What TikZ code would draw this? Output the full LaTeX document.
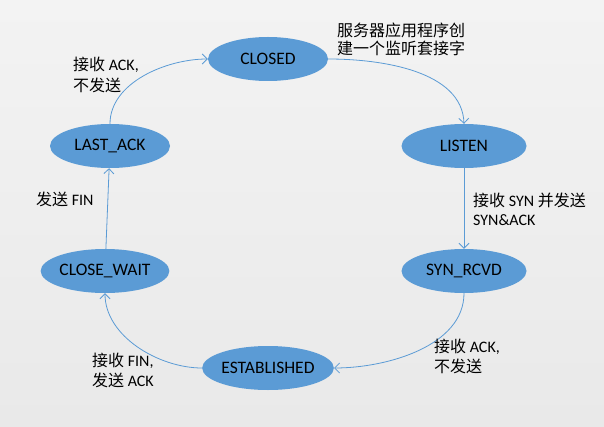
\documentclass[tikz,border=0pt]{standalone}
\usepackage{fontspec}
\setmainfont{Carlito}
\newfontfamily\cjk{Noto Sans CJK SC}
\usetikzlibrary{arrows.meta,shapes.geometric}
\definecolor{stateblue}{RGB}{91,155,213}
\definecolor{bgtop}{RGB}{243,243,243}
\definecolor{bgbot}{RGB}{233,233,233}

\begin{document}
\begin{tikzpicture}[x=1pt,y=1pt,
    state/.style={ellipse, fill=stateblue, minimum height=44pt, inner sep=0pt, font=\fontsize{17.5}{20}\selectfont},
    trans/.style={stateblue, line width=0.8pt, -{Straight Barb[length=5pt,width=10pt]}},
    lbl/.style={anchor=west, align=left, inner sep=0pt}]
\shade[top color=bgtop, bottom color=bgbot] (0,0) rectangle (604,426);
\foreach \n/\x/\y/\w/\t in {closed/268/367/120/CLOSED, listen/464/280/125/LISTEN,
    synrcvd/464/155/125/SYN\_RCVD, established/268/58/120/ESTABLISHED,
    closewait/105/155/120/CLOSE\_WAIT, lastack/110/280/120/LAST\_ACK} {
    \node[state, minimum width=\w pt] (\n) at (\x,\y) {\t};
}
\draw[trans] (closed.east) to[out=0, in=92, looseness=0.9] (listen.north);
\draw[trans] (listen) -- (synrcvd);
\draw[trans] (synrcvd.south) to[out=-90, in=0, looseness=0.9] (established.east);
\draw[trans] (established.west) to[out=180, in=-90, looseness=0.9] (closewait.south);
\draw[trans] (closewait) -- (lastack);
\draw[trans] (lastack.north) to[out=90, in=180, looseness=0.9] (closed.west);
\node[lbl, font=\fontsize{16}{18}\selectfont] (lblcl) at (337,386.5) {\cjk 服务器应用程序创\\\cjk 建一个监听套接字};
\node[lbl, font=\fontsize{16}{19}\selectfont] (lblls) at (473,216.5) {{\cjk 接收} SYN {\cjk 并发送}\\SYN\&ACK};
\node[lbl, font=\fontsize{16}{20}\selectfont] (lblsr) at (434,69.3) {{\cjk 接收} ACK,\\\cjk 不发送};
\node[lbl, font=\fontsize{16}{20}\selectfont] (lbles) at (92,56) {{\cjk 接收} FIN,\\{\cjk 发送} ACK};
\node[lbl, font=\fontsize{16}{20}\selectfont] (lblcw) at (36,226.7) {{\cjk 发送} FIN};
\node[lbl, font=\fontsize{16}{21}\selectfont] (lblla) at (73,351) {{\cjk 接收} ACK,\\\cjk 不发送};
\end{tikzpicture}
\end{document}
